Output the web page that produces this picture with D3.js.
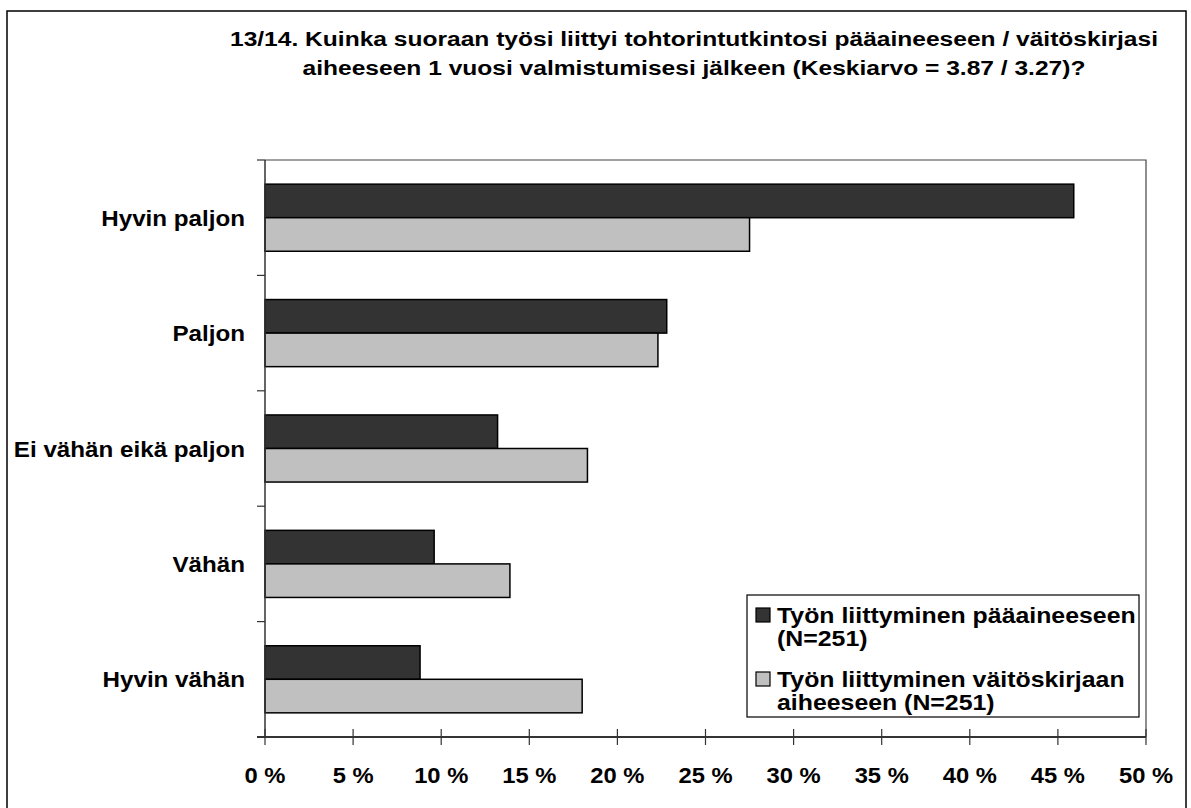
<!DOCTYPE html>
<html><head><meta charset="utf-8">
<script src="https://cdn.jsdelivr.net/npm/d3@7"></script>
<style>
body{margin:0;background:#fff;}
text{font-family:"Liberation Sans",Arial,sans-serif;font-weight:bold;fill:#000;}
</style></head>
<body><svg id="chart" width="1191" height="808"></svg>
<script>
const categories = ["Hyvin paljon","Paljon","Ei vähän eikä paljon","Vähän","Hyvin vähän"];
const seriesNames = ["Työn liittyminen pääaineeseen (N=251)","Työn liittyminen väitöskirjaan aiheeseen (N=251)"];
const paaaine = [45.9, 22.8, 13.2, 9.6, 8.8];
const vaitoskirja = [27.5, 22.3, 18.3, 13.9, 18.0];
const xTicks = [0,5,10,15,20,25,30,35,40,45,50];
const titleLines = ["13/14. Kuinka suoraan työsi liittyi tohtorintutkintosi pääaineeseen / väitöskirjasi",
                    "aiheeseen 1 vuosi valmistumisesi jälkeen (Keskiarvo = 3.87 / 3.27)?"];
const legendLines = [["Työn liittyminen pääaineeseen","(N=251)"],["Työn liittyminen väitöskirjaan","aiheeseen (N=251)"]];
const colors = ["#333333","#c0c0c0"];

const svg = d3.select("#chart");
const plot = {left:265, right:1146, top:160, bottom:737};

// outer frame
svg.append("rect").attr("x",7).attr("y",11).attr("width",1179).attr("height",805)
  .attr("fill","none").attr("stroke","#000").attr("stroke-width",1.5);

function stext(g, x, y, str, size, anchor, sx){
  return g.append("text").attr("transform",`translate(${x},${y}) scale(${sx},1)`)
    .attr("text-anchor",anchor).style("font-size",size+"px").text(str);
}

// title
titleLines.forEach((t,i)=> stext(svg, 694, 46 + i*29, t, 21, "middle", 1.17));

const x = d3.scaleLinear().domain([0,50]).range([plot.left, plot.right]);
const y = d3.scaleBand().domain(categories).range([plot.top, plot.bottom]).padding(0);
const ySub = d3.scaleBand().domain([0,1]).range([0, y.bandwidth()]).paddingInner(0).paddingOuter(0.72);

// plot border (top/right)
svg.append("path").attr("d",`M${plot.left},${plot.top}H${plot.right}V${plot.bottom}`)
  .attr("fill","none").attr("stroke","#444").attr("stroke-width",1.2);

// bars
const series = [paaaine, vaitoskirja];
series.forEach((vals, si)=>{
  svg.append("g").selectAll("rect").data(categories).join("rect")
    .attr("x", x(0))
    .attr("y", (d)=> y(d) + ySub(si))
    .attr("width", (d,i)=> x(vals[i]) - x(0))
    .attr("height", ySub.bandwidth())
    .attr("fill", colors[si]).attr("stroke","#000").attr("stroke-width",1.5);
});

// y axis line + ticks at band boundaries
const yBounds = categories.map(c=>y(c)).concat([plot.bottom]);
svg.append("line").attr("x1",plot.left).attr("x2",plot.left).attr("y1",plot.top).attr("y2",plot.bottom)
  .attr("stroke","#333").attr("stroke-width",1.5);
svg.append("g").selectAll("line").data(yBounds).join("line")
  .attr("x1",plot.left-8).attr("x2",plot.left).attr("y1",d=>d).attr("y2",d=>d)
  .attr("stroke","#333").attr("stroke-width",1.2);

// x axis
svg.append("line").attr("x1",plot.left-8).attr("x2",plot.right).attr("y1",plot.bottom).attr("y2",plot.bottom)
  .attr("stroke","#333").attr("stroke-width",2);
svg.append("g").selectAll("line").data(xTicks).join("line")
  .attr("x1",d=>x(d)).attr("x2",d=>x(d)).attr("y1",plot.bottom-8).attr("y2",plot.bottom+8)
  .attr("stroke","#333").attr("stroke-width",1.2);
xTicks.forEach(t=> stext(svg, x(t), 783, t+" %", 22, "middle", 1.08));

// category labels
categories.forEach(c=> stext(svg, 245, y(c)+y.bandwidth()/2+8, c, 22, "end", 1.1));

// legend
const lg = svg.append("g");
lg.append("rect").attr("x",747).attr("y",595).attr("width",392).attr("height",122)
  .attr("fill","#fff").attr("stroke","#000").attr("stroke-width",1.2);
legendLines.forEach((lines,i)=>{
  const top = 608 + i*64;
  lg.append("rect").attr("x",756).attr("y",top).attr("width",14).attr("height",14)
    .attr("fill",colors[i]).attr("stroke","#000").attr("stroke-width",1.2);
  lines.forEach((ln,j)=> stext(lg, 777, top+15+j*23, ln, 22, "start", 1.13));
});
</script></body></html>
